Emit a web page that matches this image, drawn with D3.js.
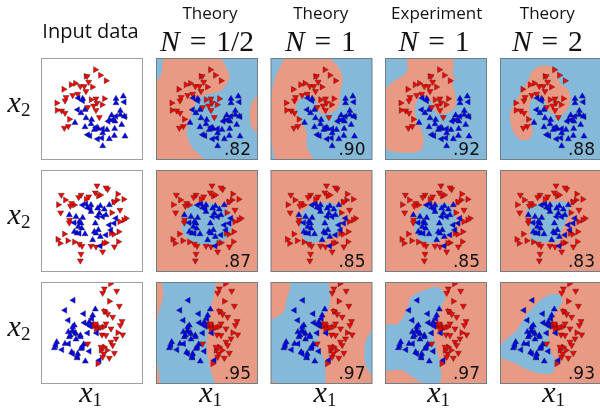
<!DOCTYPE html>
<html>
<head>
<meta charset="utf-8">
<script src="https://cdn.jsdelivr.net/npm/d3@7"></script>
<style>
body { margin: 0; background: #fff; }
svg { display: block; filter: blur(0.3px); }
</style>
</head>
<body>
<div id="chart"></div>
<script>
// column headings
var columnTitles = ['Theory', 'Theory', 'Experiment', 'Theory'];
var columnN = ['1/2', '1', '1', '2'];

// test accuracy, row by row
var scores = [
    ['.82', '.90', '.92', '.88'],
    ['.87', '.85', '.85', '.83'],
    ['.95', '.97', '.97', '.93']
];

// samples in the x1/x2 plane (x2 grows downward here), split by class and marker
var moonsRedRight = [[163,35],[178,52],[195,68],[68,94],[90,80],[103,76],[47,135],[48,157],[154,87],[150,125],[183,140],[190,122],[85,184],[135,55]];
var moonsRedDown = [[138,55],[143,72],[118,85],[130,85],[135,100],[110,108],[95,112],[75,118],[72,128],[165,122],[168,135],[165,157],[140,148],[158,143],[175,178],[82,205],[70,210],[62,158],[72,165]];
var moonsBlueUp = [[247,115],[225,122],[225,135],[125,122],[132,155],[120,165],[135,180],[102,194],[152,185],[150,198],[132,207],[238,158],[238,170],[212,172],[242,200],[222,190],[205,186],[198,215],[221,212],[185,264],[252,235],[220,233],[205,243],[185,225],[172,212],[160,215],[250,175]];
var moonsBlueLeft = [[112,120],[125,128],[110,155],[250,132],[225,175],[252,176],[140,230],[147,233],[170,243],[183,240],[165,208],[185,212],[215,185],[202,190]];

var circleRedRight = [[52,104],[73,90],[230,72],[248,88],[228,90],[218,96],[172,78],[135,88],[100,105],[212,128],[255,145],[248,150],[236,155],[233,185],[210,190],[218,193],[195,218],[232,215],[188,220],[70,192],[50,208],[57,220],[80,212],[100,216],[178,75]];
var circleRedDown = [[168,47],[61,75],[120,75],[113,82],[143,80],[163,68],[200,58],[195,53],[237,120],[59,128],[86,150],[85,158],[120,252],[118,272],[185,245],[150,228],[165,230],[220,230],[123,228],[115,222],[92,100],[88,108],[220,95]];
var circleBlueUp = [[85,135],[105,140],[125,143],[115,155],[120,160],[100,185],[112,170],[122,175],[108,190],[132,192],[155,210],[160,185],[163,160],[172,180],[165,190],[178,200],[175,130],[195,135],[178,108],[150,105],[150,125],[140,112],[205,105],[190,118],[170,115]];
var circleBlueLeft = [[125,105],[135,102],[148,118],[185,140],[225,145],[205,165],[210,180],[100,158],[115,190],[170,140],[195,195],[178,228],[220,160]];

var blobsRedRight = [[208,5],[205,58],[192,88],[160,132],[172,140],[230,152],[190,195],[165,140],[188,135],[170,245],[180,205],[198,205]];
var blobsRedDown = [[185,33],[190,20],[227,27],[235,72],[190,88],[200,97],[215,105],[243,118],[238,130],[155,127],[165,130],[178,135],[195,125],[210,140],[140,185],[245,158],[183,158],[195,160],[210,180],[215,190],[225,170],[220,213],[205,228],[188,215],[180,195],[185,225],[163,125]];
var blobsBlueUp = [[163,82],[155,100],[145,120],[100,130],[95,145],[82,150],[85,165],[72,185],[105,155],[118,160],[105,172],[47,180],[40,198],[128,187],[120,200],[110,215],[92,210],[108,228],[133,238],[118,165],[88,160],[95,135]];
var blobsBlueLeft = [[97,55],[72,85],[128,95],[82,115],[153,110],[130,122],[140,127],[148,133],[167,153],[140,153],[83,185],[63,203],[45,190],[145,208],[95,215],[175,235],[110,225],[125,195],[100,152]];

// decision regions, outlines; the second colour of each panel
var moonsRegions = [
    [[29,-8],[180,-8],[212,30],[220,60],[192,100],[152,110],[122,126],[112,156],[97,196],[92,226],[107,266],[157,320],[24,320],[0,298],[-12,200],[-12,88],[15,50]],
    [[49,-8],[154,-8],[199,21],[216,56],[209,106],[204,146],[179,166],[150,165],[134,126],[104,116],[79,136],[79,166],[99,201],[109,226],[109,266],[132,320],[26,320],[4,256],[1,156],[9,76],[34,16]],
    [[70,-8],[200,-8],[205,56],[215,61],[203,71],[210,106],[210,146],[185,166],[155,166],[135,126],[105,116],[90,146],[95,186],[110,216],[115,256],[105,278],[10,276],[-8,246],[-8,106],[25,71],[65,41]],
    [[95,41],[125,23],[165,31],[180,76],[205,96],[210,136],[185,171],[155,166],[130,126],[105,116],[90,136],[90,176],[98,216],[90,241],[65,246],[40,221],[30,166],[55,116],[85,66]]
];
var moonsRegionsExtra = [[[320,100],[287,136],[282,166],[287,206],[320,236]], null, null, null];

var circleRegions = [
    [[77,165],[85,130],[110,105],[150,98],[190,105],[220,125],[228,165],[215,200],[190,220],[150,225],[110,215],[85,195]],
    [[89,165],[94,130],[114,110],[149,100],[189,100],[209,120],[214,155],[209,185],[179,202],[149,215],[109,215],[94,195]],
    [[88,165],[95,135],[110,115],[145,105],[185,100],[205,120],[215,150],[205,180],[180,200],[140,218],[105,210],[90,185]],
    [[80,120],[95,105],[145,98],[195,95],[210,115],[200,150],[185,180],[180,210],[125,215],[95,208],[90,170],[85,140]]
];

var blobsRegions = [
    [[22,-8],[172,-8],[167,69],[157,129],[152,199],[162,259],[174,320],[24,320],[7,259],[-2,179],[7,99],[22,39]],
    [[59,-8],[164,-8],[179,39],[174,79],[154,109],[144,179],[164,249],[154,320],[44,312],[-12,279],[-12,129],[39,89],[49,49],[59,19]],
    [[-10,134],[40,124],[65,84],[80,44],[120,24],[150,14],[175,29],[180,49],[165,84],[150,119],[145,159],[155,204],[165,249],[165,299],[110,301],[75,279],[50,264],[-10,261]],
    [[0,200],[18,172],[50,145],[75,105],[105,70],[135,44],[175,37],[187,54],[175,79],[155,109],[145,159],[150,199],[165,239],[160,269],[130,276],[85,264],[45,244],[5,226]]
];
var blobsRegionsExtra = [null, [[320,130],[289,169],[281,219],[289,259],[320,290]], null, null];

var RED = '#ff0000', BLUE = '#0000ff';
var REGION_RED = '#e99a85', REGION_BLUE = '#84b9d9';

var rows = [
    { back: REGION_BLUE, fore: REGION_RED, regions: moonsRegions, extra: moonsRegionsExtra,
      right: moonsRedRight, down: moonsRedDown, up: moonsBlueUp, left: moonsBlueLeft },
    { back: REGION_RED, fore: REGION_BLUE, regions: circleRegions, extra: [null, null, null, null],
      right: circleRedRight, down: circleRedDown, up: circleBlueUp, left: circleBlueLeft },
    { back: REGION_RED, fore: REGION_BLUE, regions: blobsRegions, extra: blobsRegionsExtra,
      right: blobsRedRight, down: blobsRedDown, up: blobsBlueUp, left: blobsBlueLeft }
];

var width = 600, height = 412;
var colX = [41, 156, 270.5, 385, 500];
var rowY = [58, 170, 282];
var size = 103;

// text centres do not follow the panels exactly
var xLabelX = [90.7, 210.7, 325, 438.7, 553.7];
var titleX = [210, 320.7, 436.7, 547.3];
var nX = [207, 320.3, 434, 547.3];

var x = d3.scaleLinear().domain([0, 309]).range([0, size]);
var y = d3.scaleLinear().domain([0, 309]).range([0, size]);

var outline = d3.line()
    .x(function(d) { return x(d[0]); })
    .y(function(d) { return y(d[1]); })
    .curve(d3.curveCatmullRomClosed.alpha(0.5));

var triangle = d3.symbol().type(d3.symbolTriangle).size(16);

var svg = d3.select('#chart').append('svg')
    .attr('width', width)
    .attr('height', height);

svg.append('defs').append('clipPath')
    .attr('id', 'panel-clip')
    .append('rect')
    .attr('x', 0.5)
    .attr('y', 0.5)
    .attr('width', size - 2)
    .attr('height', size - 2);

function drawMarkers(g, data, color, angle) {
    g.selectAll(null)
	.data(data)
	.enter().append('path')
	.attr('d', triangle)
	.attr('transform', function(d) {
	    return 'translate(' + x(d[0]) + ',' + y(d[1]) + ') rotate(' + angle + ')';
	})
	.attr('fill', color)
	.attr('stroke', '#222')
	.attr('stroke-width', 0.4);
}

function drawPanel(rowIndex, colIndex) {
    var row = rows[rowIndex];
    var g = svg.append('g')
	.attr('transform', 'translate(' + colX[colIndex] + ',' + rowY[rowIndex] + ')');
    var isInput = colIndex === 0;

    var inner = g.append('g').attr('clip-path', 'url(#panel-clip)');
    inner.append('rect')
	.attr('x', 0.5)
	.attr('y', 0.5)
	.attr('width', size - 2)
	.attr('height', size - 2)
	.attr('fill', isInput ? '#fff' : row.back);

    if (!isInput) {
	var c = colIndex - 1;
	inner.append('path').attr('d', outline(row.regions[c])).attr('fill', row.fore);
	if (row.extra[c]) {
	    inner.append('path').attr('d', outline(row.extra[c])).attr('fill', row.fore);
	}
    }

    drawMarkers(inner, row.right, RED, 90);
    drawMarkers(inner, row.down, RED, 180);
    drawMarkers(inner, row.up, BLUE, 0);
    drawMarkers(inner, row.left, BLUE, 270);

    g.append('rect')
	.attr('x', 0.5)
	.attr('y', 0.5)
	.attr('width', size - 2)
	.attr('height', size - 2)
	.attr('fill', 'none')
	.attr('stroke', isInput ? '#a0a0a0' : '#6f7f88')
	.attr('stroke-width', 1);

    if (!isInput) {
	g.append('text')
	    .attr('x', 95)
	    .attr('y', 97)
	    .attr('text-anchor', 'end')
	    .attr('font-family', 'DejaVu Sans')
	    .attr('font-size', 17)
	    .attr('fill', '#111')
	    .text(scores[rowIndex][colIndex - 1]);
    }
}

function mathLabel(cx, baseline, sub) {
    var t = svg.append('text')
	.attr('x', cx)
	.attr('y', baseline)
	.attr('text-anchor', 'middle')
	.attr('font-family', 'Liberation Serif')
	.attr('fill', '#111');
    t.append('tspan').attr('font-style', 'italic').attr('font-size', 30).text('x');
    t.append('tspan').attr('font-size', 19).attr('dy', 4).text(sub);
}

rowY.forEach(function(r, i) {
    colX.forEach(function(c, j) { drawPanel(i, j); });
    mathLabel(19, r + 53.7, '2');
});

xLabelX.forEach(function(cx) {
    mathLabel(cx, 402.3, '1');
});

svg.append('text')
    .attr('x', 90.5)
    .attr('y', 37.7)
    .attr('text-anchor', 'middle')
    .attr('font-family', 'Open Sans')
    .attr('font-size', 20)
    .attr('fill', '#111')
    .text('Input data');

columnTitles.forEach(function(title, i) {
    svg.append('text')
	.attr('x', titleX[i])
	.attr('y', 19)
	.attr('text-anchor', 'middle')
	.attr('font-family', 'Open Sans')
	.attr('font-size', 17)
	.attr('fill', '#111')
	.text(title);
    var t = svg.append('text')
	.attr('x', nX[i])
	.attr('y', 50.5)
	.attr('text-anchor', 'middle')
	.attr('font-family', 'Liberation Serif')
	.attr('font-size', 29.5)
	.attr('word-spacing', 2.5)
	.attr('fill', '#111');
    t.append('tspan').attr('font-style', 'italic').text('N');
    t.append('tspan').text(' = ' + columnN[i]);
});
</script>
</body>
</html>
